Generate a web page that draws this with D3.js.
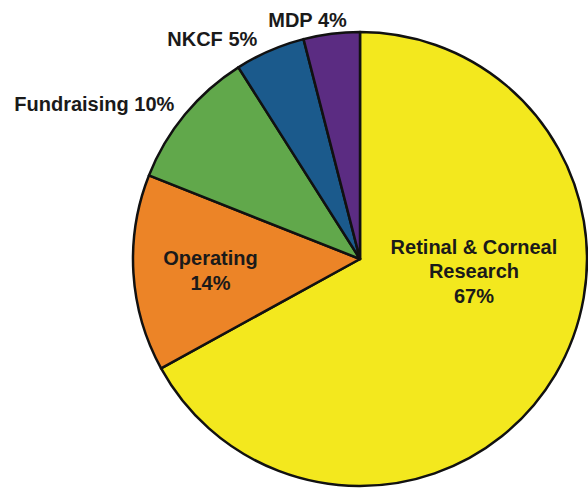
<!DOCTYPE html>
<html>
<head>
<meta charset="utf-8">
<script src="https://cdn.jsdelivr.net/npm/d3@7"></script>
<style>
  body { margin: 0; background: #fff; }
  text { font-family: "Liberation Sans", Arial, Helvetica, sans-serif; font-weight: bold; fill: #1a1a1a; }
</style>
</head>
<body>
<script>
// slice data, clockwise from 12 o'clock
var names = ['Retinal & Corneal Research', 'Operating', 'Fundraising', 'NKCF', 'MDP'];
var values = [67, 14, 10, 5, 4];
var colors = ['#f3e81e', '#ec8427', '#61a84b', '#1b5a8c', '#5b2c82'];

var screen = { width: 588, height: 488 };
var cx = 360, cy = 259, radius = 227;

var data = names.map(function(n, i){
  return { name: n, value: values[i], color: colors[i] };
});

var svg = d3.select('body').append('svg')
            .attr('width', screen.width)
            .attr('height', screen.height);

var pie = d3.pie()
            .sort(null)
            .value(function(d){ return d.value; });

var arc = d3.arc()
            .innerRadius(0)
            .outerRadius(radius);

var arcs = pie(data);

var g = svg.append('g')
           .attr('transform', 'translate(' + cx + ',' + cy + ')');

g.selectAll('path')
 .data(arcs)
 .enter()
 .append('path')
 .attr('d', arc)
 .attr('fill', function(d){ return d.data.color; })
 .attr('stroke', '#111')
 .attr('stroke-width', 2.5)
 .attr('stroke-linejoin', 'round');

// label layout: inside (multi-line, centered) or outside (one line, anchored end)
var font_size = 20;
var line_h = 24.5;
var labelArc = d3.arc().innerRadius(radius * 0.66).outerRadius(radius * 0.66);
var outerArc = d3.arc().innerRadius(radius + 14).outerRadius(radius + 14);
var layout = [
  { inside: true, lines: ['Retinal & Corneal', 'Research'], nudge: [-15, -64] },
  { inside: true, lines: ['Operating'], nudge: [0, 2] },
  { inside: false, nudge: [0, 6] },
  { inside: false, nudge: [-7, 8] },
  { inside: false, nudge: [17, 7] }
];

var labels = g.selectAll('text.label')
              .data(arcs)
              .enter()
              .append('text')
              .classed('label', true)
              .attr('font-size', font_size + 'px')
              .each(function(d, i){
                var L = layout[i];
                var t = d3.select(this);
                if (L.inside){
                  var c = labelArc.centroid(d);
                  var lines = L.lines.concat([d.data.value + '%']);
                  var x = c[0] + L.nudge[0];
                  var y0 = c[1] + L.nudge[1] - (lines.length - 1) * line_h / 2 + 7;
                  t.attr('text-anchor', 'middle');
                  lines.forEach(function(s, k){
                    t.append('tspan')
                     .attr('x', x)
                     .attr('y', y0 + k * line_h)
                     .text(s);
                  });
                } else {
                  var p = outerArc.centroid(d);
                  t.attr('text-anchor', 'end')
                   .attr('x', p[0] + L.nudge[0])
                   .attr('y', p[1] + L.nudge[1])
                   .text(d.data.name + ' ' + d.data.value + '%');
                }
              });
</script>
</body>
</html>
